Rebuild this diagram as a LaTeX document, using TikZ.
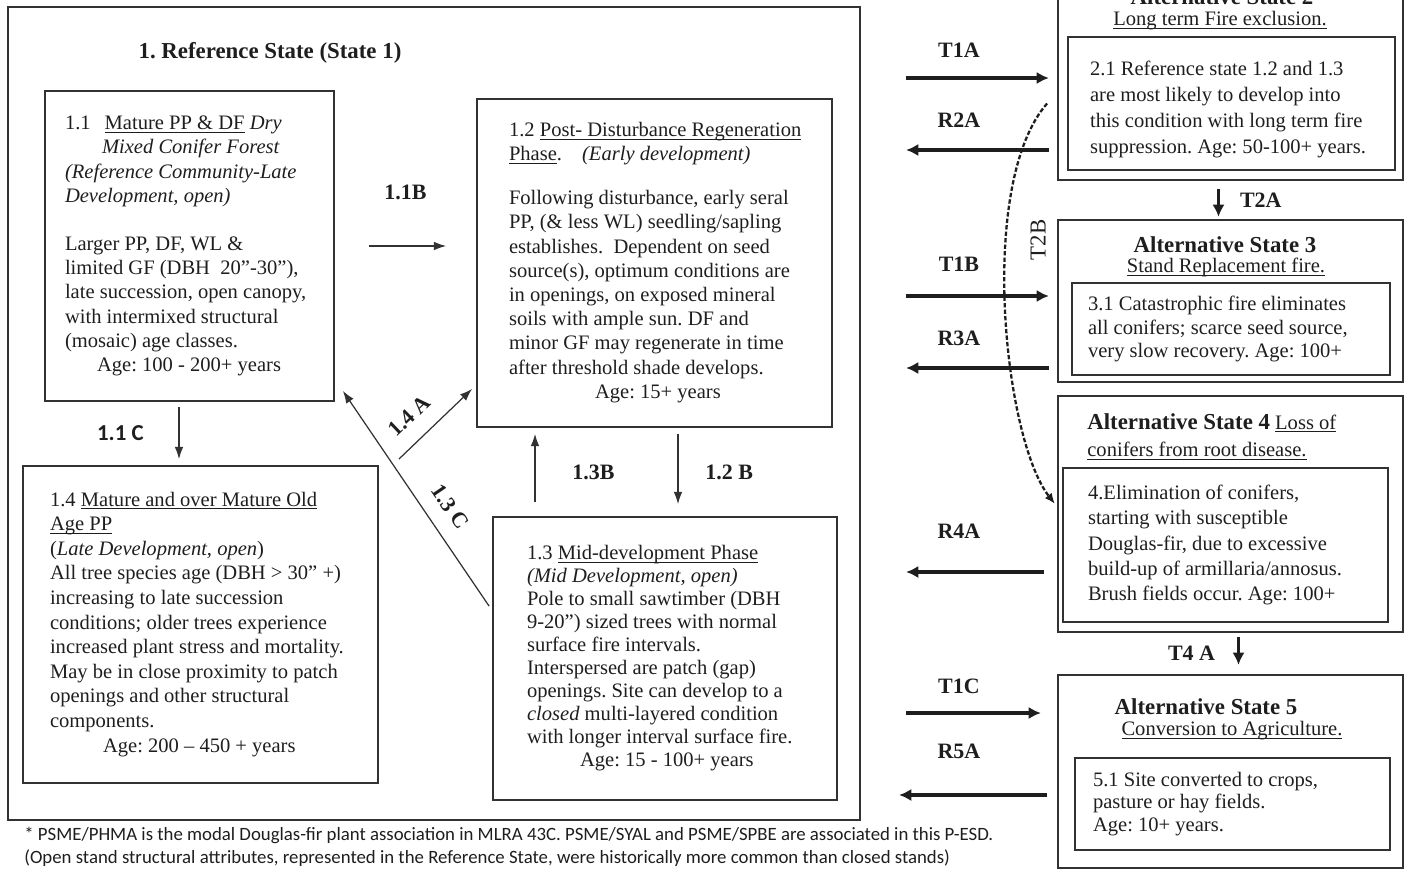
\documentclass[tikz,border=0pt]{standalone}
\usepackage{fontspec}
\setmainfont{Liberation Serif}
\newfontfamily\notefont{Carlito}
\usepackage{tikz}
\usetikzlibrary{arrows.meta, calc, positioning}
\definecolor{inkgray}{RGB}{30,30,30}
\definecolor{linegray}{RGB}{50,50,50}
\frenchspacing
\newcommand{\uln}[1]{\underline{\smash{#1}}}

\begin{document}
\begin{tikzpicture}[
    x=0.02cm, y=-0.02cm,
    phasebox/.style={draw=linegray, line width=1.1pt, inner sep=0pt, align=left, text=inkgray, font=\fontsize{11.7}{13.8}\selectfont},
    stateframe/.style={draw=linegray, line width=1.3pt, inner sep=0pt},
    headtxt/.style={font=\fontsize{13}{15}\selectfont\bfseries, text=inkgray, inner sep=0pt},
    subtxt/.style={font=\fontsize{11.7}{13.8}\selectfont, text=inkgray, inner sep=0pt},
    lab/.style={font=\fontsize{12.5}{14}\selectfont\bfseries, text=inkgray, inner sep=1pt},
    thinarrow/.style={-{Latex[length=7pt,width=5pt]}, line width=0.7pt, draw=linegray},
    bigarrow/.style={-{Latex[length=7pt,width=7pt]}, line width=2pt, draw=inkgray},
    dasharrow/.style={-{Latex[length=6pt,width=5pt]}, line width=1.3pt, dash pattern=on 2.5pt off 1.2pt, draw=inkgray}
]
    \useasboundingbox (0,0) rectangle (1421,875);

    % Reference state
    \node[stateframe, minimum width=17.04cm, minimum height=16.26cm] (ref) at (434,413.5) {};
    \node[headtxt] (reftitle) at (270,53) {1. Reference State (State 1)};

    \node[phasebox, minimum width=5.78cm, minimum height=6.2cm] (b11) at (189.5,246) {\makebox[4.98cm][l]{1.1\hspace{0.28cm}\uln{Mature PP \& DF} \textit{Dry}}\\
        \hspace*{0.74cm}\textit{Mixed Conifer Forest}\\
        \textit{(Reference Community-Late}\\
        \textit{Development, open)}\\[13.6pt]
        Larger PP, DF, WL \&\\
        limited GF (DBH\ \ 20''-30''),\\
        late succession, open canopy,\\
        with intermixed structural\\
        (mosaic) age classes.\\
        \hspace*{0.64cm}Age: 100 - 200+ years};

    \node[phasebox, minimum width=7.1cm, minimum height=6.56cm] (b12) at (654.5,263) {\makebox[5.82cm][l]{1.2 \uln{Post- Disturbance Regeneration}}\\
        \uln{Phase}.\hspace{0.4cm}\textit{(Early development)}\\[11pt]
        Following disturbance, early seral\\
        PP, (\& less WL) seedling/sapling\\
        establishes.\ \ Dependent on seed\\
        source(s), optimum conditions are\\
        in openings, on exposed mineral\\
        soils with ample sun. DF and\\
        minor GF may regenerate in time\\
        after threshold shade develops.\\
        \hspace*{1.72cm}Age: 15+ years};

    \node[phasebox, font=\fontsize{11.7}{14}\selectfont, minimum width=7.1cm, minimum height=6.34cm] (b14) at (200.5,624.5) {\makebox[6.02cm][l]{1.4 \uln{Mature and over Mature Old}}\\
        \uln{Age PP}\\
        (\textit{Late Development, open})\\
        All tree species age (DBH > 30'' +)\\
        increasing to late succession\\
        conditions; older trees experience\\
        increased plant stress and mortality.\\
        May be in close proximity to patch\\
        openings and other structural\\
        components.\\
        \hspace*{1.06cm}Age: 200 -- 450 + years};

    \node[phasebox, font=\fontsize{11.7}{13.1}\selectfont, minimum width=6.88cm, minimum height=5.66cm] (b13) at (665,658.5) {\makebox[5.52cm][l]{1.3 \uln{Mid-development Phase}}\\
        \textit{(Mid Development, open)}\\
        Pole to small sawtimber (DBH\\
        9-20'') sized trees with normal\\
        surface fire intervals.\\
        Interspersed are patch (gap)\\
        openings. Site can develop to a\\
        \textit{closed} multi-layered condition\\
        with longer interval surface fire.\\
        \hspace*{1.06cm}Age: 15 - 100+ years};

    % Pathways inside the reference state
    \draw[thinarrow, shorten <=0.68cm, shorten >=0.6cm] (b11.east) -- node[lab, above=0.88cm] {1.1B} (b11.east -| b12.west);
    \draw[thinarrow, shorten <=0.1cm, shorten >=0.12cm] (b11.south -| 179,0) -- node[lab, left=0.66cm, font=\notefont\fontsize{13}{15}\selectfont\bfseries] {1.1 C} (b14.north -| 179,0);
    \draw[thinarrow, shorten <=0.28cm, shorten >=0.12cm] (b13.north -| 535,0) -- node[lab, right=0.7cm] {1.3B} (b12.south -| 535,0);
    \draw[thinarrow, shorten <=0.12cm, shorten >=0.24cm] (b12.south -| 678,0) -- node[lab, right=0.5cm] {1.2 B} (b13.north -| 678,0);
    \draw[thinarrow] ($(b14.north east)+(20,-6)$) -- node[lab, sloped, above=0.28cm, pos=0.37] {1.4 A} ($(b12.south west)+(-4,-39)$);
    \draw[thinarrow] ($(b13.north west)+(-3,90)$) -- node[lab, sloped, above=0.28cm, pos=0.4] {1.3 C} ($(b11.south east)+(8,-11)$);

    % Alternative state 2
    \node[stateframe, minimum width=6.9cm, minimum height=4.4cm] (s2) at (1230.5,70) {};
    \node[headtxt] (s2title) at (1222,-3) {Alternative State 2};
    \node[subtxt] (s2sub) at (1220,21) {\strut\uln{Long term Fire exclusion.}};
    \node[phasebox, font=\fontsize{11.7}{14.8}\selectfont, minimum width=6.54cm, minimum height=2.66cm] (s2in) at (1231.5,103.5) {\rule{0pt}{15pt}\makebox[5.66cm][l]{2.1 Reference state 1.2 and 1.3}\\
        are most likely to develop into\\
        this condition with long term fire\\
        suppression. Age: 50-100+ years.};

    % Alternative state 3
    \node[stateframe, minimum width=6.9cm, minimum height=3.24cm] (s3) at (1230.5,301) {};
    \node[headtxt] (s3title) at (1225,245) {Alternative State 3};
    \node[subtxt] (s3sub) at (1226,268) {\strut\uln{Stand Replacement fire.}};
    \node[phasebox, font=\fontsize{11.7}{13.4}\selectfont, minimum width=6.36cm, minimum height=1.84cm] (s3in) at (1231,329) {\makebox[5.72cm][l]{3.1 Catastrophic fire eliminates}\\
        all conifers; scarce seed source,\\
        very slow recovery. Age: 100+};

    % Alternative state 4
    \node[stateframe, minimum width=6.9cm, minimum height=4.72cm] (s4) at (1230.5,514) {};
    \node[subtxt, anchor=west, align=left, font=\fontsize{11.7}{15.4}\selectfont] (s4title) at (1087,439) {{\fontsize{13}{15.4}\selectfont\bfseries Alternative State 4} \uln{Loss of}\\
        \strut\uln{conifers from root disease.}};
    \node[phasebox, font=\fontsize{11.7}{14.5}\selectfont, minimum width=6.5cm, minimum height=3.08cm] (s4in) at (1225.5,545) {\makebox[5.5cm][l]{4.Elimination of conifers,}\\
        starting with susceptible\\
        Douglas-fir, due to excessive\\
        build-up of armillaria/annosus.\\
        Brush fields occur. Age: 100+};

    % Alternative state 5
    \node[stateframe, minimum width=6.9cm, minimum height=3.86cm] (s5) at (1230.5,771.5) {};
    \node[headtxt] (s5title) at (1206,707) {Alternative State 5};
    \node[subtxt] (s5sub) at (1232,731) {\strut\uln{Conversion to Agriculture.}};
    \node[phasebox, font=\fontsize{11.7}{12.8}\selectfont, minimum width=6.3cm, minimum height=1.84cm] (s5in) at (1232.5,804) {\makebox[5.58cm][l]{5.1 Site converted to crops,}\\
        pasture or hay fields.\\
        Age: 10+ years.};

    % Transitions and restorations
    \draw[bigarrow, shorten <=0.9cm, shorten >=0.16cm] (ref.east |- 0,78) -- node[lab, above=0.34cm] {T1A} (s2.west |- 0,78);
    \draw[bigarrow, shorten <=0.16cm, shorten >=0.9cm] (s2.west |- 0,150) -- node[lab, above=0.38cm] {R2A} (ref.east |- 0,150);
    \draw[bigarrow, shorten <=0.9cm, shorten >=0.16cm] (ref.east |- 0,296) -- node[lab, above=0.42cm] {T1B} (s3.west |- 0,296);
    \draw[bigarrow, shorten <=0.16cm, shorten >=0.9cm] (s3.west |- 0,368) -- node[lab, above=0.38cm] {R3A} (ref.east |- 0,368);
    \draw[bigarrow, shorten <=0.26cm, shorten >=0.9cm] (s4.west |- 0,572) -- node[lab, above=0.6cm] {R4A} (ref.east |- 0,572);
    \draw[bigarrow, shorten <=0.9cm, shorten >=0.32cm] (ref.east |- 0,713) -- node[lab, above=0.32cm] {T1C} (s5.west |- 0,713);
    \draw[bigarrow, shorten <=0.2cm, shorten >=0.76cm] (s5.west |- 0,795) -- node[lab, above=0.66cm] {R5A} (ref.east |- 0,795);

    \draw[bigarrow, shorten <=0.16cm, shorten >=0.04cm] ($(s2.south)+(-12,0)$) -- node[lab, right=0.36cm] {T2A} ($(s3.north)+(-12,0)$);
    \draw[bigarrow, shorten <=0.08cm, shorten >=0.18cm] ($(s4.south)+(8,0)$) -- node[lab, left=0.4cm] {T4 A} ($(s5.north)+(8,0)$);

    \coordinate (t2bfrom) at ($(s2in.west)+(-20,0)$);
    \coordinate (t2bto) at ($(s4.north west)+(-2,109)$);
    \draw[dasharrow] (t2bfrom) .. controls +(-70,80) and +(-51,-65) .. (t2bto);
    \node[font=\fontsize{13}{15}\selectfont, text=inkgray, rotate=90, inner sep=0pt] (t2blab) at (1038,240) {T2B};

    % Footnote
    \node[anchor=west, align=left, inner sep=0pt, text=inkgray, font=\notefont\fontsize{10.7}{13.1}\selectfont] (note) at (24,847) {* PSME/PHMA is the modal Douglas-fir plant association in MLRA 43C. PSME/SYAL and PSME/SPBE are associated in this P-ESD.\\
        (Open stand structural attributes, represented in the Reference State, were historically more common than closed stands)};
\end{tikzpicture}
\end{document}
